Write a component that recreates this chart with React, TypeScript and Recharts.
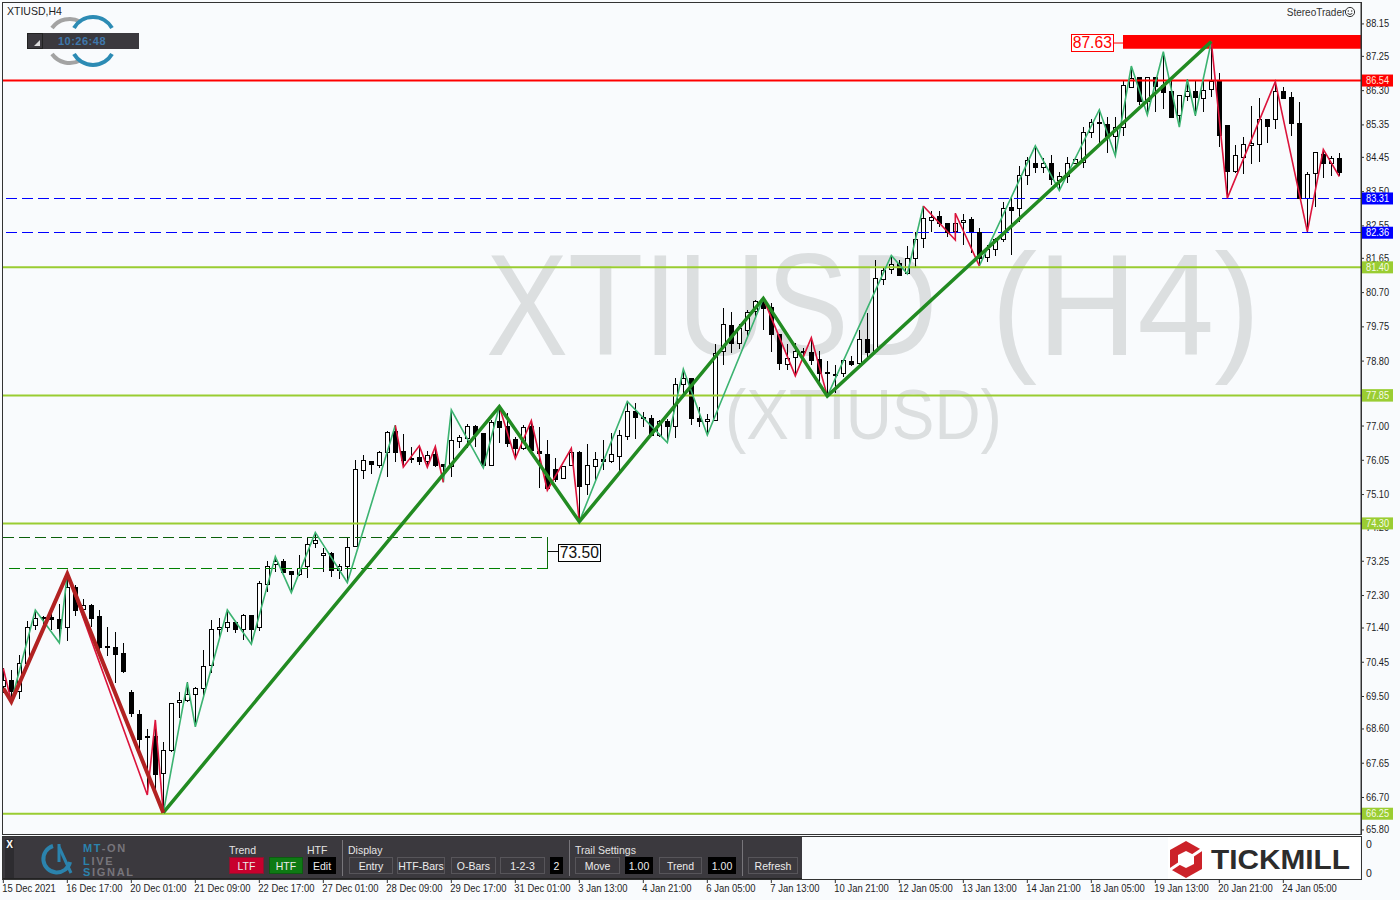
import { Bar, ComposedChart, Line, ReferenceArea, ReferenceLine, XAxis, YAxis } from 'recharts';

const opens = [
  69.79, 69.96, 69.66, 70.42, 71.47, 71.70, 71.70, 71.64, 71.42, 72.53, 71.92, 72.03, 71.73, 70.90, 70.87, 70.70,
  69.62, 69.02, 68.41, 68.41, 67.37, 68.01, 69.35, 69.39, 69.56, 69.73, 70.37, 71.36, 71.42, 71.56, 71.36, 71.75,
  71.42, 72.61, 73.17, 73.25, 72.97, 72.89, 73.11, 73.75, 73.42, 73.47, 73.00, 73.11, 73.66, 75.77, 76.02, 75.91,
  76.27, 76.85, 76.30, 76.10, 76.13, 76.03, 76.23, 75.95, 75.90, 76.58, 76.66, 76.99, 76.80, 75.93, 77.13, 76.99,
  76.63, 76.40, 77.01, 76.30, 76.22, 75.82, 75.55, 75.91, 76.28, 75.38, 75.88, 76.08, 76.04, 76.18, 76.71, 77.41,
  77.26, 77.22, 76.76, 77.14, 77.00, 78.16, 78.32, 77.21, 77.13, 77.18, 79.07, 79.79, 79.31, 79.65, 80.18, 80.43,
  80.29, 79.55, 78.73, 78.91, 79.07, 79.04, 78.85, 78.49, 78.45, 78.46, 78.80, 78.74, 79.40, 79.09, 81.07, 81.35,
  81.51, 81.24, 81.67, 82.21, 82.71, 82.82, 82.62, 82.42, 82.65, 82.73, 82.39, 81.70, 81.90, 82.18, 83.07, 83.04,
  83.95, 84.29, 84.19, 84.29, 83.83, 83.92, 84.30, 84.33, 85.15, 85.42, 85.38, 85.03, 85.29, 86.41, 86.68, 86.02,
  86.68, 86.45, 86.29, 85.62, 86.16, 86.29, 86.10, 86.34, 86.57, 85.34, 84.08, 84.47, 84.80, 84.81, 85.51, 85.51,
  86.28, 86.12, 85.40, 83.33, 84.01, 84.54, 84.30, 84.42,
];
const highs = [
  70.28, 70.24, 70.65, 71.59, 71.90, 71.73, 71.85, 72.07, 72.90, 72.59, 72.20, 72.07, 71.90, 71.44, 71.29, 70.98,
  69.68, 69.13, 68.60, 68.85, 68.25, 69.31, 69.63, 69.89, 69.77, 70.79, 71.62, 71.67, 71.90, 71.58, 71.78, 71.77,
  72.70, 73.26, 73.38, 73.30, 72.97, 73.42, 73.91, 74.05, 73.61, 73.52, 73.17, 73.91, 76.06, 76.20, 76.02, 76.32,
  76.86, 77.02, 76.77, 76.43, 76.45, 76.30, 76.43, 75.95, 77.45, 76.75, 77.05, 77.03, 76.80, 77.17, 77.54, 77.35,
  76.69, 77.03, 77.15, 76.98, 76.61, 76.10, 75.90, 76.38, 76.32, 76.49, 76.27, 76.60, 76.80, 76.89, 77.68, 77.63,
  77.38, 77.31, 77.17, 77.19, 78.32, 78.58, 78.34, 77.54, 77.32, 79.27, 80.28, 80.17, 79.82, 80.22, 80.50, 80.54,
  80.42, 79.55, 79.27, 79.30, 79.15, 79.45, 79.07, 78.80, 78.69, 78.82, 78.94, 79.66, 80.13, 81.60, 81.42, 81.73,
  81.59, 82.00, 82.39, 83.10, 82.95, 82.95, 82.62, 82.90, 82.88, 82.79, 82.48, 82.02, 82.22, 83.22, 83.32, 84.21,
  84.47, 84.77, 84.43, 84.51, 84.05, 84.45, 84.43, 85.30, 85.51, 85.77, 85.58, 85.56, 86.57, 86.98, 86.69, 86.68,
  86.68, 87.38, 86.60, 86.17, 86.61, 86.60, 86.60, 87.66, 86.78, 85.34, 84.79, 85.01, 85.88, 86.09, 85.51, 86.55,
  86.41, 86.25, 85.98, 84.05, 84.61, 84.67, 84.49, 84.56,
];
const lows = [
  69.59, 69.36, 69.43, 70.28, 71.35, 71.35, 71.35, 70.99, 71.05, 71.73, 71.62, 71.44, 70.74, 70.61, 69.88, 70.14,
  68.94, 67.97, 66.77, 66.93, 66.28, 67.97, 68.90, 69.36, 68.66, 69.50, 70.14, 71.14, 71.30, 71.27, 71.07, 70.95,
  71.33, 72.41, 72.94, 72.94, 72.38, 72.84, 72.80, 73.63, 72.94, 72.82, 72.77, 72.66, 73.66, 75.54, 75.67, 75.83,
  75.60, 75.99, 75.86, 75.97, 75.92, 75.86, 75.86, 75.44, 75.58, 76.39, 76.39, 76.43, 75.84, 75.93, 76.54, 76.43,
  76.10, 76.34, 76.28, 75.29, 75.22, 75.46, 75.55, 75.90, 74.35, 75.09, 75.49, 75.78, 75.97, 75.74, 76.62, 76.63,
  76.98, 76.75, 76.69, 76.54, 76.66, 77.85, 77.03, 76.96, 76.75, 77.18, 78.69, 79.02, 79.14, 79.51, 80.03, 79.65,
  79.04, 78.54, 78.55, 78.39, 78.80, 78.69, 78.19, 77.83, 77.91, 78.37, 78.67, 78.60, 78.83, 79.09, 80.91, 81.22,
  81.17, 81.22, 81.42, 81.95, 82.37, 82.51, 82.25, 82.16, 82.02, 81.79, 81.44, 81.56, 81.72, 82.09, 81.74, 82.67,
  83.68, 84.01, 84.01, 83.68, 83.53, 83.75, 84.27, 84.16, 84.98, 84.86, 84.56, 84.49, 85.04, 86.38, 85.90, 85.63,
  85.72, 85.79, 85.56, 85.29, 86.02, 85.61, 85.72, 86.11, 84.75, 83.32, 84.01, 83.99, 84.27, 84.33, 84.84, 85.23,
  86.07, 85.03, 83.31, 82.39, 83.08, 83.87, 83.94, 83.92,
];
const closes = [
  69.96, 69.66, 70.42, 71.42, 71.67, 71.67, 71.64, 71.41, 72.53, 71.90, 72.03, 71.69, 70.88, 70.86, 70.69, 70.22,
  69.03, 68.33, 68.37, 67.36, 68.01, 69.31, 69.39, 69.56, 69.73, 70.34, 71.36, 71.42, 71.56, 71.36, 71.75, 71.38,
  72.64, 73.11, 73.25, 72.96, 72.89, 73.06, 73.72, 73.83, 73.47, 73.00, 73.11, 73.64, 75.80, 76.05, 75.94, 76.27,
  76.83, 76.28, 76.06, 76.08, 76.04, 76.21, 75.93, 75.90, 76.60, 76.69, 76.99, 76.78, 75.91, 77.10, 76.98, 76.54,
  76.39, 76.98, 76.34, 76.24, 75.27, 75.53, 75.88, 76.27, 75.35, 75.91, 76.08, 76.04, 76.22, 76.74, 77.41, 77.24,
  77.24, 76.75, 77.13, 77.00, 78.16, 78.32, 77.23, 77.15, 77.19, 79.03, 79.82, 79.31, 79.71, 80.15, 80.46, 80.28,
  79.54, 78.74, 78.88, 79.07, 79.04, 78.83, 78.48, 78.46, 78.43, 78.82, 78.73, 79.40, 79.05, 81.10, 81.33, 81.50,
  81.19, 81.65, 82.18, 82.76, 82.79, 82.62, 82.39, 82.62, 82.70, 82.37, 81.67, 81.90, 82.18, 83.04, 82.99, 83.96,
  84.37, 84.18, 84.29, 83.84, 83.92, 84.29, 84.40, 85.15, 85.42, 85.39, 85.03, 85.30, 86.45, 86.66, 86.02, 86.67,
  86.43, 86.27, 85.58, 86.17, 86.28, 86.13, 86.31, 86.57, 85.07, 84.08, 84.51, 84.81, 84.86, 85.51, 85.33, 86.28,
  86.10, 85.41, 83.31, 83.98, 84.59, 84.30, 84.42, 84.05,
];

// swing points as [bar index, price]
const thickGreen = [[20, 66.28], [62, 77.54], [72, 74.35], [95, 80.54], [103, 77.83], [151, 87.66]];
const thickRed = [[0, 69.73], [1, 69.36], [8, 72.9], [20, 66.28]];
const thinGreenRuns = [
  [[1, 69.36], [4, 71.9], [7, 70.99], [8, 72.9]],
  [[20, 66.28], [23, 69.89], [24, 68.66], [28, 71.9], [31, 70.95], [34, 73.38], [36, 72.38], [39, 74.05], [43, 72.66], [49, 77.02]],
  [[55, 75.44], [56, 77.45], [60, 75.84], [62, 77.54]],
  [[72, 74.35], [78, 77.68], [83, 76.54], [85, 78.58], [88, 76.75], [95, 80.54]],
  [[103, 77.83], [111, 81.73], [113, 81.22], [115, 83.1]],
  [[122, 81.44], [129, 84.77], [132, 83.53], [137, 85.77], [139, 84.49], [141, 86.98], [143, 85.63], [145, 87.38], [147, 85.29], [148, 86.61], [149, 85.61], [151, 87.66]],
];
const thinRedRuns = [
  [[0, 70.28], [1, 69.36]],
  [[8, 72.9], [18, 66.77], [19, 68.85], [20, 66.28]],
  [[49, 77.02], [50, 75.86], [52, 76.45], [53, 75.86], [54, 76.43], [55, 75.44]],
  [[62, 77.54], [64, 76.1], [66, 77.15], [68, 75.22], [71, 76.38], [72, 74.35]],
  [[95, 80.54], [99, 78.39], [101, 79.45], [103, 77.83]],
  [[115, 83.1], [119, 82.16], [119, 82.9], [122, 81.44]],
  [[151, 87.66], [153, 83.32], [159, 86.55], [163, 82.39], [165, 84.67], [167, 83.92]],
];

const priceTicks = [
  88.15, 87.25, 86.3, 85.35, 84.45, 83.5, 82.55, 81.65, 80.7, 79.75, 78.8, 77.85, 77.0, 76.05, 75.1, 74.2, 73.25,
  72.3, 71.4, 70.45, 69.5, 68.6, 67.65, 66.7, 65.8,
];
// the red line sits a touch above its printed 86.54 on the terminal's scale
const redLevels = [86.58];
const redLevelText = '86.54';
const blueLevels = [83.31, 82.36];
const greenLevels = [81.4, 74.3, 66.25, 77.85];
const timeTickBars = [0, 8, 16, 24, 32, 40, 48, 56, 64, 72, 80, 88, 96, 104, 112, 120, 128, 136, 144, 152, 160];
const timeTickLabels = [
  '15 Dec 2021', '16 Dec 17:00', '20 Dec 01:00', '21 Dec 09:00', '22 Dec 17:00', '27 Dec 01:00', '28 Dec 09:00',
  '29 Dec 17:00', '31 Dec 01:00', '3 Jan 13:00', '4 Jan 21:00', '6 Jan 05:00', '7 Jan 13:00', '10 Jan 21:00',
  '12 Jan 05:00', '13 Jan 13:00', '14 Jan 21:00', '18 Jan 05:00', '19 Jan 13:00', '20 Jan 21:00', '24 Jan 05:00',
];

const candles = opens.map((open, i) => ({ bar: i, open, high: highs[i], low: lows[i], close: closes[i] }));
const toPoints = (run: number[][]) => run.map(([bar, price]) => ({ bar, price }));

const UI_FONT = '"Liberation Sans", Arial, sans-serif';
const PANEL_BG = '#3b393e';
const WATERMARK = '#dcdfe0';

function Candle(props: any) {
  const { x, y, width, height, payload } = props;
  const cx = Math.round(x + width / 2);
  const range = payload.high - payload.low || 1;
  const top = Math.max(payload.open, payload.close);
  const bottom = Math.min(payload.open, payload.close);
  const bodyTop = Math.round(y + ((payload.high - top) / range) * height);
  const bodyBottom = Math.round(y + ((payload.high - bottom) / range) * height);
  const up = payload.close >= payload.open;
  return (
    <g shapeRendering="crispEdges">
      <line x1={cx + 0.5} x2={cx + 0.5} y1={y} y2={y + height} stroke="#000" />
      <rect
        x={cx - 1.5}
        y={bodyTop + 0.5}
        width={4}
        height={Math.max(bodyBottom - bodyTop, 1)}
        fill={up ? '#fff' : '#000'}
        stroke="#000"
      />
    </g>
  );
}

function PriceTick(props: any) {
  const { x, y, payload } = props;
  const value = payload.value as number;
  let box: string | null = null;
  let color = '#1d1d1d';
  let text = value.toFixed(2);
  if (redLevels.includes(value)) {
    box = '#ff0000';
    color = '#ffe6d6';
    text = redLevelText;
  } else if (blueLevels.includes(value)) {
    box = '#0000ff';
    color = '#fff';
  } else if (greenLevels.includes(value)) {
    box = '#9acd32';
    color = '#f6fbe8';
  }
  return (
    <g>
      <line x1={x - 8} x2={x - 5} y1={y} y2={y} stroke="#333" />
      {box && <rect x={x - 7} y={y - 6} width={31} height={12} fill={box} />}
      <g transform={`translate(${x - 3},${y + 3.5}) scale(0.88,1)`}>
        <text fontFamily={UI_FONT} fontSize={10.5} fill={color}>
          {text}
        </text>
      </g>
    </g>
  );
}

function TimeTick(props: any) {
  const { x, payload } = props;
  const label = timeTickLabels[timeTickBars.indexOf(payload.value)];
  return (
    <g>
      <line x1={x} x2={x} y1={879} y2={883} stroke="#333" />
      <g transform={`translate(${x - 1},892) scale(0.9,1)`}>
        <text fontFamily={UI_FONT} fontSize={10.5} fill="#1d1d1d">
          {label}
        </text>
      </g>
    </g>
  );
}

function Box(props: { left: number; top: number; width: number; height: number; style?: any; children?: any }) {
  const { left, top, width, height, style, children } = props;
  return (
    <div
      style={{
        position: 'absolute',
        left,
        top,
        width,
        height,
        boxSizing: 'border-box',
        display: 'flex',
        alignItems: 'center',
        justifyContent: 'center',
        whiteSpace: 'nowrap',
        ...style,
      }}
    >
      {children}
    </div>
  );
}

function PanelLabel({ left, width, text }: { left: number; width: number; text: string }) {
  return (
    <Box left={left} top={843} width={width} height={13} style={{ justifyContent: 'flex-start', color: '#e4e4e4', fontSize: 10.5 }}>
      {text}
    </Box>
  );
}

function PanelButton({ left, width, text, bg, border }: { left: number; width: number; text: string; bg?: string; border?: string }) {
  return (
    <Box
      left={left}
      top={857}
      width={width}
      height={17}
      style={{ background: bg ?? PANEL_BG, border: `1px solid ${border ?? '#57555a'}`, color: '#ececec', fontSize: 10.5 }}
    >
      {text}
    </Box>
  );
}

function TradePanel() {
  return (
    <div style={{ fontFamily: UI_FONT }}>
      <Box left={3} top={837} width={799} height={42} style={{ background: PANEL_BG, borderBottom: '1px solid #222' }} />
      <Box left={5} top={839} width={9} height={39} style={{ background: '#2d2c30' }} />
      <Box left={5} top={840} width={9} height={9} style={{ color: '#fff', fontSize: 10, fontWeight: 700 }}>
        X
      </Box>
      <svg width={100} height={42} style={{ position: 'absolute', left: 40, top: 837 }}>
        <path d="M 13 9 A 13.5 13.5 0 1 0 30 25" fill="none" stroke="#2b83ad" strokeWidth={4} />
        <path d="M 19 7 L 19 25" fill="none" stroke="#2b83ad" strokeWidth={3} />
        <path d="M 19 10 L 31 36" fill="none" stroke="#2b83ad" strokeWidth={3} />
        <g fontFamily={UI_FONT} fontSize={11} fontWeight={700} letterSpacing={1.7} fill="#77757b">
          <text x={43} y={15}>
            <tspan fill="#2b83ad">MT</tspan>-ON
          </text>
          <text x={43} y={28}>
            <tspan fill="#2b83ad">L</tspan>IVE
          </text>
          <text x={43} y={39}>
            <tspan fill="#2b83ad">S</tspan>IGNAL
          </text>
        </g>
      </svg>
      <PanelLabel left={229} width={40} text="Trend" />
      <PanelLabel left={307} width={30} text="HTF" />
      <PanelButton left={229} width={35} text="LTF" bg="#c8002d" border="#8a1530" />
      <PanelButton left={269} width={34} text="HTF" bg="#0e7a14" border="#0c5c10" />
      <PanelButton left={308} width={28} text="Edit" bg="#000" border="#000" />
      <Box left={342} top={840} width={1} height={36} style={{ background: '#77757a' }} />
      <PanelLabel left={348} width={50} text="Display" />
      <PanelButton left={349} width={44} text="Entry" />
      <PanelButton left={397} width={48} text="HTF-Bars" />
      <PanelButton left={451} width={45} text="O-Bars" />
      <PanelButton left={500} width={45} text="1-2-3" />
      <PanelButton left={550} width={13} text="2" bg="#000" border="#000" />
      <Box left={569} top={840} width={1} height={36} style={{ background: '#77757a' }} />
      <PanelLabel left={575} width={80} text="Trail Settings" />
      <PanelButton left={575} width={45} text="Move" />
      <PanelButton left={625} width={28} text="1.00" bg="#000" border="#000" />
      <PanelButton left={659} width={43} text="Trend" />
      <PanelButton left={708} width={28} text="1.00" bg="#000" border="#000" />
      <Box left={742} top={840} width={1} height={36} style={{ background: '#77757a' }} />
      <PanelButton left={748} width={50} text="Refresh" />
    </div>
  );
}

function TickmillLogo() {
  return (
    <svg width={192} height={42} style={{ position: 'absolute', left: 1168, top: 837 }}>
      <rect width={192} height={42} fill="#fff" />
      <polygon points="18,4 34,13 34,32 18,41 2,32 2,13" fill="#cc2229" />
      <polygon points="18,14 26,18 26,27 18,31 10,27 10,18" fill="#fff" />
      <line x1={24} y1={19} x2={36} y2={11} stroke="#fff" strokeWidth={3} />
      <line x1={12} y1={26} x2={0} y2={34} stroke="#fff" strokeWidth={3} />
      <text x={43} y={32} fontFamily={UI_FONT} fontSize={28} fontWeight={700} fill="#2c2c2c" textLength={139} lengthAdjust="spacingAndGlyphs">
        TICKMILL
      </text>
    </svg>
  );
}

function ClockWidget() {
  return (
    <>
      <svg width={140} height={70} style={{ position: 'absolute', left: 0, top: 0 }}>
        <g fill="none" strokeWidth={4}>
          <path d="M 52 28 A 22 22 0 0 1 80 21.5" stroke="#a3a3a3" />
          <path d="M 52 54 A 22 22 0 0 0 80 60.5" stroke="#a3a3a3" />
          <path d="M 74 28 A 22 22 0 0 1 112 28" stroke="#2c8bb4" />
          <path d="M 74 54 A 22 22 0 0 0 112 54" stroke="#2c8bb4" />
        </g>
      </svg>
      <Box left={27} top={33} width={112} height={16} style={{ background: PANEL_BG }} />
      <Box left={27} top={33} width={16} height={16} style={{ background: '#3b393e', border: '1px solid #222' }}>
        <svg width={14} height={14}>
          <polygon points="12,6 12,12 6,12" fill="#ddd" />
        </svg>
      </Box>
      <Box left={44} top={33} width={76} height={16} style={{ color: '#3f78ac', fontFamily: UI_FONT, fontSize: 11, fontWeight: 700, letterSpacing: 0.5 }}>
        10:26:48
      </Box>
    </>
  );
}

export default function App() {
  return (
    <div style={{ position: 'absolute', left: 0, top: 0, width: 1400, height: 900, background: '#f9fbfd', overflow: 'hidden', fontFamily: UI_FONT }}>
      <svg width={1400} height={900} style={{ position: 'absolute', left: 0, top: 0 }}>
        <g fontFamily={UI_FONT} fill={WATERMARK}>
          <text transform="translate(486,355) scale(0.855,1)" fontSize={144}>
            XTIUSD
          </text>
          <text transform="translate(991,355) scale(0.962,1)" fontSize={144}>
            (H4)
          </text>
          <text transform="translate(725,439) scale(0.9,1)" fontSize={71}>
            (XTIUSD)
          </text>
        </g>
      </svg>
      <Box left={2} top={2} width={1360} height={833} style={{ border: '1px solid #333' }} />
      <Box left={2} top={836} width={1360} height={44} style={{ border: '1px solid #333' }} />

      <div style={{ position: 'absolute', left: 0, top: 0 }}>
        <ComposedChart
          width={1400}
          height={900}
          data={candles}
          margin={{ top: 3, right: 0, bottom: 0, left: 3 }}
          style={{ background: 'transparent' }}
        >
          <XAxis
            dataKey="bar"
            type="number"
            domain={[-0.04, 169.71]}
            allowDataOverflow
            ticks={timeTickBars}
            interval={0}
            height={65}
            axisLine={false}
            tickLine={false}
            tick={<TimeTick />}
          />
          <YAxis
            orientation="right"
            type="number"
            domain={[65.66, 88.73]}
            allowDataOverflow
            ticks={[...priceTicks, ...greenLevels, ...blueLevels, ...redLevels]}
            interval={0}
            width={39}
            axisLine={{ stroke: '#333' }}
            tickLine={false}
            tick={<PriceTick />}
          />
          <ReferenceArea x1={139.96} x2={169.71} y1={87.46} y2={87.84} fill="#ff0000" fillOpacity={1} stroke="none" />
          <ReferenceLine segment={[{ x: 138.8, y: 87.62 }, { x: 139.96, y: 87.62 }]} stroke="#ff0000" />
          {greenLevels.map((v) => (
            <ReferenceLine key={v} y={v} stroke="#9acd32" strokeWidth={2} />
          ))}
          {blueLevels.map((v) => (
            <ReferenceLine key={v} y={v} stroke="#0000ff" strokeDasharray="11 5" shapeRendering="crispEdges" />
          ))}
          {redLevels.map((v) => (
            <ReferenceLine key={v} y={v} stroke="#ff0000" strokeWidth={2} />
          ))}
          <ReferenceLine segment={[{ x: 0, y: 73.92 }, { x: 68.09, y: 73.92 }]} stroke="#0a5f0a" strokeDasharray="11 5" shapeRendering="crispEdges" />
          <ReferenceLine segment={[{ x: 0.7, y: 73.06 }, { x: 68.09, y: 73.06 }]} stroke="#008000" strokeDasharray="11 5" shapeRendering="crispEdges" />
          <ReferenceLine segment={[{ x: 68.05, y: 73.92 }, { x: 68.05, y: 73.06 }]} stroke="#0a6b0a" strokeWidth={1.2} shapeRendering="crispEdges" />
          <ReferenceLine segment={[{ x: 68.05, y: 73.52 }, { x: 69.3, y: 73.52 }]} stroke="#111" shapeRendering="crispEdges" />

          {thinGreenRuns.map((run, i) => (
            <Line key={`tg${i}`} data={toPoints(run)} dataKey="price" stroke="#3cb371" strokeWidth={1.6} dot={false} activeDot={false} isAnimationActive={false} />
          ))}
          {thinRedRuns.map((run, i) => (
            <Line key={`tr${i}`} data={toPoints(run)} dataKey="price" stroke="#dc143c" strokeWidth={1.6} dot={false} activeDot={false} isAnimationActive={false} />
          ))}
          <Line data={toPoints(thickGreen)} dataKey="price" stroke="#228b22" strokeWidth={3.5} dot={false} activeDot={false} isAnimationActive={false} />
          <Line data={toPoints(thickRed)} dataKey="price" stroke="#b22222" strokeWidth={4} dot={false} activeDot={false} isAnimationActive={false} />
          <Bar dataKey={(d: any) => [d.low, d.high]} barSize={5} shape={<Candle />} isAnimationActive={false} />
        </ComposedChart>
      </div>

      <Box left={7} top={4} width={60} height={13} style={{ justifyContent: 'flex-start', fontSize: 10.5, color: '#1d1d1d' }}>
        XTIUSD,H4
      </Box>
      <ClockWidget />
      <Box left={1288} top={6} width={56} height={13} style={{ fontSize: 10, color: '#333' }}>
        StereoTrader
      </Box>
      <svg width={12} height={12} style={{ position: 'absolute', left: 1344, top: 6 }}>
        <circle cx={6} cy={6} r={4.6} fill="none" stroke="#333" />
        <circle cx={4.3} cy={5} r={0.7} fill="#333" />
        <circle cx={7.7} cy={5} r={0.7} fill="#333" />
        <path d="M 3.6 7.4 Q 6 9.6 8.4 7.4" fill="none" stroke="#333" />
      </svg>

      <Box left={1071} top={34} width={43} height={18} style={{ background: '#fff', border: '1px solid #ff0000', color: '#ff0000', fontSize: 17 }}>
        <span style={{ display: 'inline-block', transform: 'scaleX(0.92)' }}>87.63</span>
      </Box>
      <Box left={558} top={544} width={43} height={18} style={{ background: '#fff', border: '1px solid #000', color: '#111', fontSize: 17 }}>
        <span style={{ display: 'inline-block', transform: 'scaleX(0.92)' }}>73.50</span>
      </Box>

      <TradePanel />
      <TickmillLogo />
      <div style={{ position: 'absolute', left: 1366, top: 838, fontSize: 10.5, color: '#1d1d1d' }}>0</div>
      <div style={{ position: 'absolute', left: 1366, top: 867, fontSize: 10.5, color: '#1d1d1d' }}>0</div>
    </div>
  );
}
